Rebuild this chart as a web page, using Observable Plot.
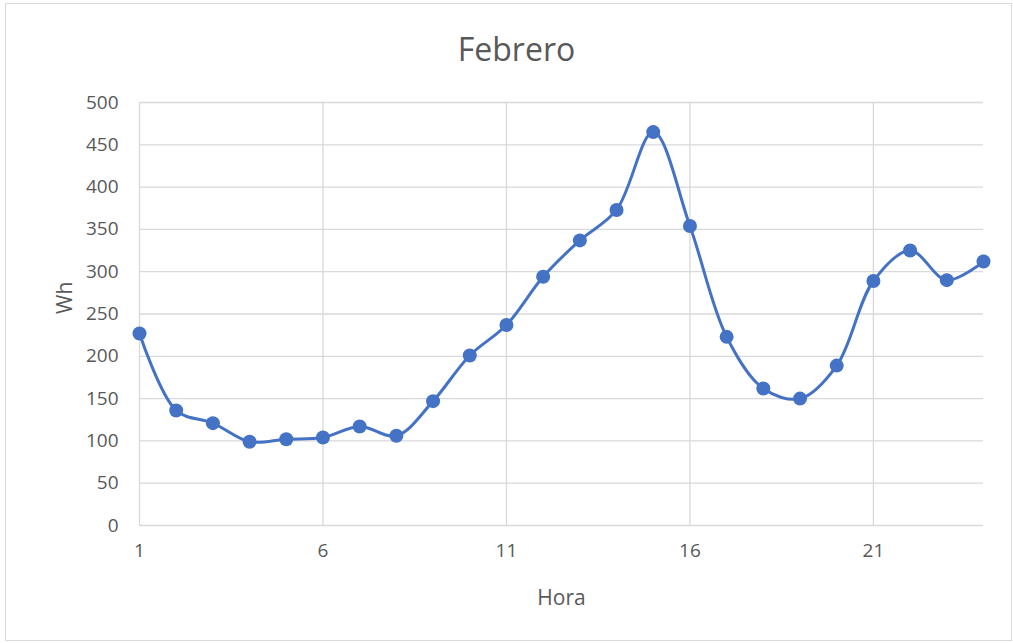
<!DOCTYPE html>
<html>
<head>
<meta charset="utf-8">
<script src="https://cdn.jsdelivr.net/npm/d3@7"></script>
<script src="https://cdn.jsdelivr.net/npm/@observablehq/plot@0.6"></script>
<style>
  html, body { margin: 0; padding: 0; background: #fff; }
  #wrap { position: relative; width: 1013px; height: 643px; }
  #border { position: absolute; left: 5px; top: 3px; width: 1007px; height: 638px; border: 1px solid #d9d9d9; box-sizing: border-box; }
  #chart { position: absolute; left: 0; top: 0; }
</style>
</head>
<body>
<div id="wrap"><div id="border"></div><div id="chart"></div></div>
<script>
const title = "Febrero";
const xLabel = "Hora";
const yLabel = "Wh";
const hours = [1,2,3,4,5,6,7,8,9,10,11,12,13,14,15,16,17,18,19,20,21,22,23,24];
const values = [227,136,121,99,102,104,117,106,147,201,237,294,337,373,465,354,223,162,150,189,289,325,290,312];
const xTicks = [1,6,11,16,21];
const yTicks = [0,50,100,150,200,250,300,350,400,450,500];

const data = hours.map((h, i) => ({hora: h, wh: values[i]}));
const textColor = "#595959";
const gridColor = "#d9d9d9";
const lineColor = "#4472C4";

const chart = Plot.plot({
  width: 1013,
  height: 643,
  marginLeft: 139,
  marginRight: 30,
  marginTop: 102,
  marginBottom: 118,
  style: {fontFamily: "'Open Sans', sans-serif", color: textColor, background: "transparent"},
  x: {domain: [1, 24]},
  y: {domain: [0, 500]},
  marks: [
    Plot.gridY(yTicks, {stroke: gridColor, strokeOpacity: 1, strokeWidth: 1.3}),
    Plot.gridX(xTicks, {stroke: gridColor, strokeOpacity: 1, strokeWidth: 1.3}),
    Plot.axisY(yTicks, {tickSize: 0, tickPadding: 21, fontSize: 19, fill: textColor, label: null}),
    Plot.axisX(xTicks, {tickSize: 0, tickPadding: 18, fontSize: 19, fill: textColor, label: null}),
    Plot.line(data, {x: "hora", y: "wh", curve: "catmull-rom", stroke: lineColor, strokeWidth: 3}),
    Plot.dot(data, {x: "hora", y: "wh", r: 7, fill: lineColor, stroke: "none"}),
    Plot.text([title], {frameAnchor: "top", dx: -45, dy: -64, fontSize: 32, fill: textColor, text: d => d}),
    Plot.text([xLabel], {frameAnchor: "bottom", dy: 79, fontSize: 21, fill: textColor, text: d => d}),
    Plot.text([yLabel], {frameAnchor: "left", dx: -74, rotate: -90, fontSize: 21, fill: textColor, text: d => d})
  ]
});
document.getElementById("chart").appendChild(chart);
</script>
</body>
</html>
